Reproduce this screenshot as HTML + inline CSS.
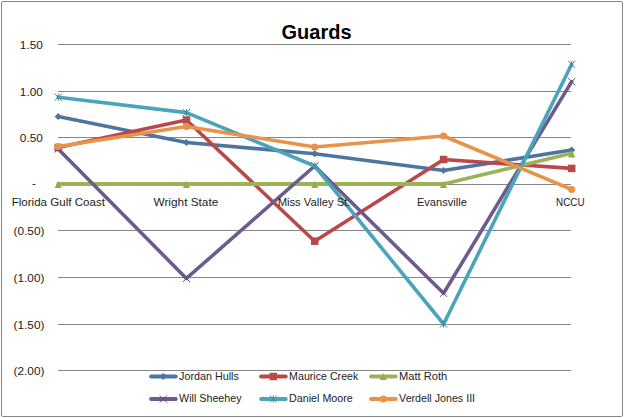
<!DOCTYPE html>
<html>
<head>
<meta charset="utf-8">
<title>Guards</title>
<style>
html,body{margin:0;padding:0;background:#fff;}
body{width:624px;height:418px;overflow:hidden;}
svg{display:block;}
text{font-family:"Liberation Sans",sans-serif;fill:#1c1c1c;}
.ax{font-size:11.8px;}
.lg{font-size:11px;}
.ttl{font-size:20px;font-weight:bold;fill:#000;}
.grid line{stroke:#868686;stroke-width:1;shape-rendering:crispEdges;}
.s{fill:none;stroke-width:3.6;stroke-linejoin:round;stroke-linecap:round;}
</style>
</head>
<body>
<svg width="624" height="418" viewBox="0 0 624 418">
<rect x="0" y="0" width="624" height="418" fill="#fff"/>
<rect x="1.5" y="1.5" width="621" height="415" rx="1.5" ry="1.5" fill="none" stroke="#868686" stroke-width="1"/>

<g class="grid">
<line x1="58" x2="571" y1="44.5" y2="44.5"/>
<line x1="58" x2="571" y1="91.5" y2="91.5"/>
<line x1="58" x2="571" y1="137.5" y2="137.5"/>
<line x1="58" x2="571" y1="184.5" y2="184.5"/>
<line x1="58" x2="571" y1="230.5" y2="230.5"/>
<line x1="58" x2="571" y1="277.5" y2="277.5"/>
<line x1="58" x2="571" y1="324.5" y2="324.5"/>
<line x1="58" x2="571" y1="370.5" y2="370.5"/>
</g>

<text class="ttl" x="316.5" y="38.5" text-anchor="middle">Guards</text>

<!-- value axis labels -->
<g class="ax" text-anchor="end">
<text x="42.8" y="49.3">1.50</text>
<text x="42.8" y="96.3">1.00</text>
<text x="42.8" y="142.3">0.50</text>
<text x="36" y="186.9">-</text>
<text x="44.4" y="235.4">(0.50)</text>
<text x="44.4" y="282.4">(1.00)</text>
<text x="44.4" y="329.4">(1.50)</text>
<text x="44.4" y="375.4">(2.00)</text>
</g>

<!-- series lines and markers -->
<g><!-- Jordan Hulls -->
<polyline class="s" stroke="#4D759F" points="58.2,116.5 186.4,142.5 314.7,153.7 443.6,170.5 571.7,150"/>
<path d="M58.2,112.9 L61.8,116.5 L58.2,120.1 L54.6,116.5 Z" fill="#4D759F"/>
<path d="M186.4,138.9 L190,142.5 L186.4,146.1 L182.8,142.5 Z" fill="#4D759F"/>
<path d="M314.7,150.1 L318.3,153.7 L314.7,157.3 L311.1,153.7 Z" fill="#4D759F"/>
<path d="M443.6,166.9 L447.2,170.5 L443.6,174.1 L440,170.5 Z" fill="#4D759F"/>
<path d="M571.7,146.4 L575.3,150 L571.7,153.6 L568.1,150 Z" fill="#4D759F"/>
</g>
<g><!-- Maurice Creek -->
<polyline class="s" stroke="#BA484B" points="58.2,147.5 186.4,120 314.7,241.2 443.6,159.5 571.7,168.4"/>
<rect x="54.45" y="143.75" width="7.5" height="7.5" fill="#BA484B"/>
<rect x="182.65" y="116.25" width="7.5" height="7.5" fill="#BA484B"/>
<rect x="310.95" y="237.45" width="7.5" height="7.5" fill="#BA484B"/>
<rect x="439.85" y="155.75" width="7.5" height="7.5" fill="#BA484B"/>
<rect x="567.95" y="164.65" width="7.5" height="7.5" fill="#BA484B"/>
</g>
<g><!-- Matt Roth -->
<polyline class="s" stroke="#9AB455" points="58.2,184 186.4,184 314.7,184 443.6,184 571.7,153.3"/>
<rect x="58" y="182" width="385" height="4" fill="#9AB455"/>
<path d="M58.2,180.9 L61.8,188.1 L54.6,188.1 Z" fill="#93AC50"/>
<path d="M186.4,180.9 L190,188.1 L182.8,188.1 Z" fill="#93AC50"/>
<path d="M314.7,180.9 L318.3,188.1 L311.1,188.1 Z" fill="#93AC50"/>
<path d="M443.6,180.9 L447.2,188.1 L440,188.1 Z" fill="#93AC50"/>
<path d="M571.7,150.2 L575.3,157.4 L568.1,157.4 Z" fill="#93AC50"/>
</g>
<g><!-- Will Sheehey -->
<polyline class="s" stroke="#6E5B8D" points="58.2,149 186.4,278.4 314.7,166 443.6,293.3 571.7,81.6"/>
<path d="M54.6,145.4 L61.8,152.6 M61.8,145.4 L54.6,152.6" stroke="#5F4E7C" stroke-width="1" fill="none"/>
<path d="M182.8,274.8 L190,282 M190,274.8 L182.8,282" stroke="#5F4E7C" stroke-width="1" fill="none"/>
<path d="M311.1,162.4 L318.3,169.6 M318.3,162.4 L311.1,169.6" stroke="#5F4E7C" stroke-width="1" fill="none"/>
<path d="M440,289.7 L447.2,296.9 M447.2,289.7 L440,296.9" stroke="#5F4E7C" stroke-width="1" fill="none"/>
<path d="M568.1,78 L575.3,85.2 M575.3,78 L568.1,85.2" stroke="#5F4E7C" stroke-width="1" fill="none"/>
</g>
<g><!-- Daniel Moore -->
<polyline class="s" stroke="#4AA4BC" points="58.2,97.2 186.4,112.6 314.7,166 443.6,324 571.7,64.3"/>
<path d="M54.6,93.6 L61.8,100.8 M61.8,93.6 L54.6,100.8 M58.2,93.6 L58.2,100.8" stroke="#3F8A9E" stroke-width="1" fill="none"/>
<path d="M182.8,109 L190,116.2 M190,109 L182.8,116.2 M186.4,109 L186.4,116.2" stroke="#3F8A9E" stroke-width="1" fill="none"/>
<path d="M311.1,162.4 L318.3,169.6 M318.3,162.4 L311.1,169.6 M314.7,162.4 L314.7,169.6" stroke="#3F8A9E" stroke-width="1" fill="none"/>
<path d="M440,320.4 L447.2,327.6 M447.2,320.4 L440,327.6 M443.6,320.4 L443.6,327.6" stroke="#3F8A9E" stroke-width="1" fill="none"/>
<path d="M568.1,60.7 L575.3,67.9 M575.3,60.7 L568.1,67.9 M571.7,60.7 L571.7,67.9" stroke="#3F8A9E" stroke-width="1" fill="none"/>
</g>
<g><!-- Verdell Jones III -->
<polyline class="s" stroke="#E8934A" points="58.2,146.5 186.4,126.5 314.7,147 443.6,136 571.7,189.5"/>
<circle cx="58.2" cy="146.5" r="3.6" fill="#E8934A"/>
<circle cx="186.4" cy="126.5" r="3.6" fill="#E8934A"/>
<circle cx="314.7" cy="147" r="3.6" fill="#E8934A"/>
<circle cx="443.6" cy="136" r="3.6" fill="#E8934A"/>
<circle cx="571.7" cy="189.5" r="3.6" fill="#E8934A"/>
</g>

<!-- category labels (drawn above lines) -->
<g class="ax" text-anchor="middle">
<text x="58.3" y="206.2" textLength="93.3" lengthAdjust="spacingAndGlyphs">Florida Gulf Coast</text>
<text x="185.9" y="206.2" textLength="64.8" lengthAdjust="spacingAndGlyphs">Wright State</text>
<text x="314.0" y="206.2" textLength="72.7" lengthAdjust="spacingAndGlyphs">Miss Valley St.</text>
<text x="441.9" y="206.2" textLength="50" lengthAdjust="spacingAndGlyphs">Evansville</text>
<text x="570.3" y="206.2" textLength="28.5" lengthAdjust="spacingAndGlyphs">NCCU</text>
</g>

<!-- legend -->
<g>
<line x1="151.1" x2="175.7" y1="376.5" y2="376.5" stroke="#4D759F" stroke-width="4" stroke-linecap="round"/>
<path d="M163.3,372.9 L166.9,376.5 L163.3,380.1 L159.7,376.5 Z" fill="#4D759F"/>
<text class="lg" x="179.1" y="379.8" textLength="59.7" lengthAdjust="spacingAndGlyphs">Jordan Hulls</text>
<line x1="261.1" x2="285.7" y1="376.5" y2="376.5" stroke="#BA484B" stroke-width="4" stroke-linecap="round"/>
<rect x="269.55" y="372.75" width="7.5" height="7.5" fill="#BA484B"/>
<text class="lg" x="289.1" y="379.8" textLength="69.2" lengthAdjust="spacingAndGlyphs">Maurice Creek</text>
<line x1="371.1" x2="395.7" y1="376.5" y2="376.5" stroke="#9AB455" stroke-width="4" stroke-linecap="round"/>
<path d="M383.3,372.9 L386.9,380.1 L379.7,380.1 Z" fill="#93AC50"/>
<text class="lg" x="399.1" y="379.8" textLength="48.1" lengthAdjust="spacingAndGlyphs">Matt Roth</text>
<line x1="151.1" x2="175.7" y1="399" y2="399" stroke="#6E5B8D" stroke-width="4" stroke-linecap="round"/>
<path d="M159.7,395.4 L166.9,402.6 M166.9,395.4 L159.7,402.6" stroke="#5F4E7C" stroke-width="1" fill="none"/>
<text class="lg" x="179.1" y="402.3" textLength="62.5" lengthAdjust="spacingAndGlyphs">Will Sheehey</text>
<line x1="261.1" x2="285.7" y1="399" y2="399" stroke="#4AA4BC" stroke-width="4" stroke-linecap="round"/>
<path d="M269.7,395.4 L276.9,402.6 M276.9,395.4 L269.7,402.6 M273.3,395.4 L273.3,402.6" stroke="#3F8A9E" stroke-width="1" fill="none"/>
<text class="lg" x="289.1" y="402.3" textLength="63.7" lengthAdjust="spacingAndGlyphs">Daniel Moore</text>
<line x1="371.1" x2="395.7" y1="399" y2="399" stroke="#E8934A" stroke-width="4" stroke-linecap="round"/>
<circle cx="383.3" cy="399" r="3.6" fill="#E8934A"/>
<text class="lg" x="399.1" y="402.3" textLength="76" lengthAdjust="spacingAndGlyphs">Verdell Jones III</text>
</g>
</svg>
</body>
</html>
